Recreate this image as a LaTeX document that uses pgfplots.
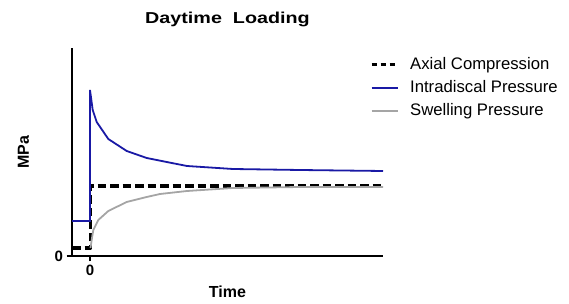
\documentclass[border=0pt]{standalone}
\usepackage{fontspec}
\setmainfont{Liberation Sans}
\usepackage{pgfplots}
\pgfplotsset{compat=1.18}
\definecolor{ipblue}{RGB}{25,25,165}
\definecolor{swgray}{RGB}{165,165,165}
\begin{document}
\begin{tikzpicture}
\begin{axis}[
  name=ax,
  scale only axis,
  width=311pt, height=208pt,
  xmin=-18, xmax=293, ymin=0, ymax=208,
  axis x line*=bottom, axis y line*=left,
  axis line style={line width=1.9pt},
  xtick={0}, ytick={0},
  tick align=outside, tick pos=left,
  major tick length=5.5pt,
  tick style={line width=1.9pt, black},
  /pgf/number format/assume math mode=true,
  ticklabel style={font=\fontsize{15}{18}\selectfont\bfseries},
  every axis title shift=0pt,
  title={Daytime\ \ Loading},
  title style={at={(axis description cs:0.5,1.1154)}, anchor=base, yshift=0pt,
    font=\fontsize{15.8}{19}\selectfont\bfseries\addfontfeature{FakeStretch=1.25}},
  xlabel={Time},
  xlabel style={at={(axis description cs:0.5,-0.2019)}, anchor=base, font=\fontsize{16}{19}\selectfont\bfseries},
  ylabel={MPa},
  ylabel style={at={(axis description cs:-0.1383,0.5)}, anchor=base, font=\fontsize{16}{19}\selectfont\bfseries},
  legend style={draw=none, fill=none, at={(axis description cs:0.958,0.9567)}, anchor=north west,
    font=\fontsize{16.7}{20}\selectfont, row sep=8pt, column sep=11pt, inner sep=0pt,
    nodes={inner sep=0pt, text height=12pt, text depth=3pt}},
  legend cell align=left,
  legend image code/.code={\draw[#1] plot coordinates {(0pt,0pt) (26pt,0pt)};},
]
\addplot[black, line width=3.3pt, dash pattern=on 8.5pt off 4pt, line join=round,
  legend image post style={dash pattern=on 5.5pt off 3.5pt, line width=3pt}] coordinates {
  (-18,8) (0.5,8) (0.5,70) (293,70)};
\addlegendentry{Axial Compression}
\addplot[ipblue, line width=1.8pt] coordinates {
  (-18,35) (0,35) (0,166) (2.7,146) (6.7,134) (18.3,117) (36.7,105) (56.7,98) (76.7,94)
  (97,90) (143,87) (210,86) (293,85)};
\addlegendentry{Intradiscal Pressure}
\addplot[swgray, line width=1.8pt] coordinates {
  (0.5,8) (2,18) (3.3,26) (8.3,36) (18.3,45) (36.7,54) (56.7,59) (70,62) (97,65) (143,68) (210,69) (293,69)};
\addlegendentry{Swelling Pressure}
\end{axis}
\pgfresetboundingbox
\path[use as bounding box] ([xshift=-72pt,yshift=-48pt]ax.south west) rectangle ([xshift=497pt,yshift=256pt]ax.south west);
\end{tikzpicture}
\end{document}
